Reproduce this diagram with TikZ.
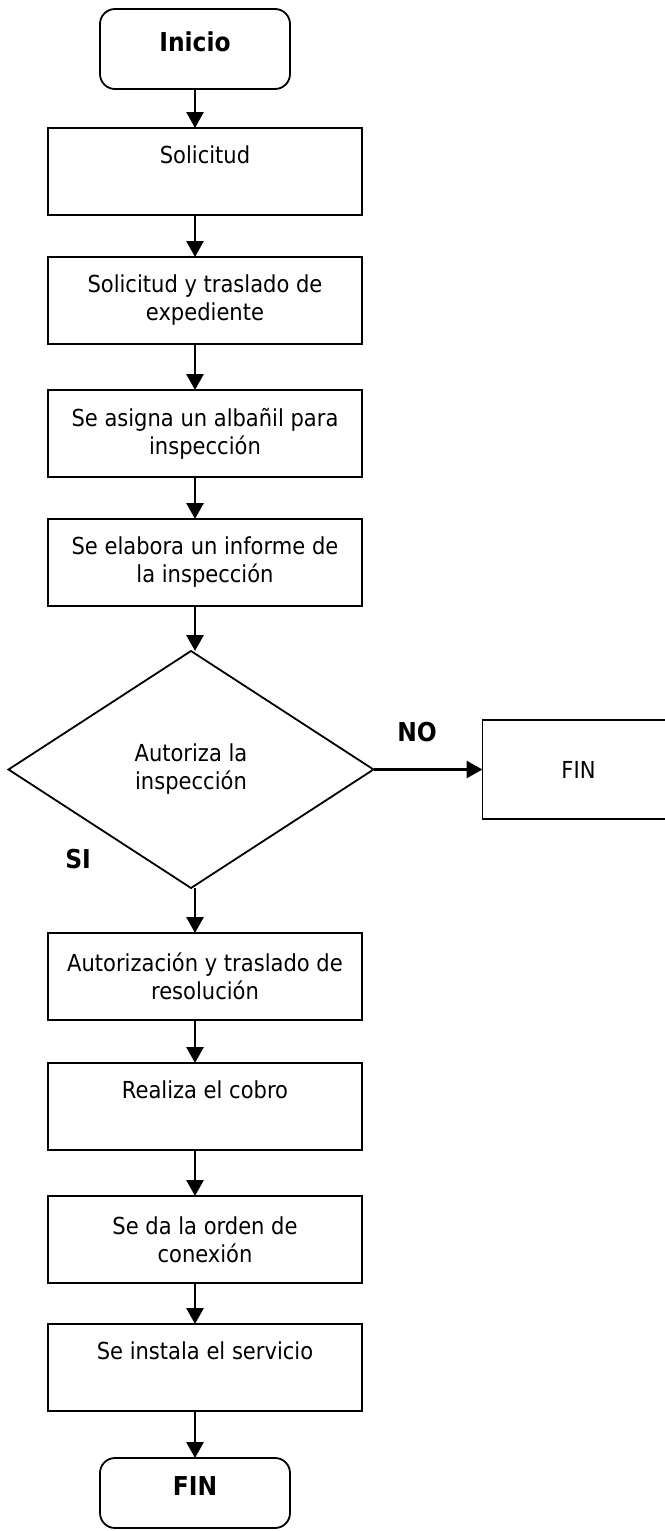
\documentclass[tikz,border=0pt]{standalone}
\usepackage{fontspec}
\setmainfont{DejaVu Sans Condensed}
\usetikzlibrary{shapes.geometric,positioning,arrows.meta}

\begin{document}
\begin{tikzpicture}[x=1pt,y=1pt,line width=1.8pt,font=\fontsize{23.4}{28}\selectfont,
  caja/.style={draw,minimum width=314pt,minimum height=87pt,inner sep=0pt,outer sep=0pt,align=center},
  corta/.style={text depth=34pt},
  extremo/.style={draw,rounded corners=15pt,minimum width=190pt,inner sep=0pt,outer sep=0pt,text depth=14pt,font=\fontsize{26}{30}\selectfont\bfseries},
  decision/.style={draw,diamond,minimum width=365pt,minimum height=237pt,inner sep=0pt,outer sep=0pt,align=center},
  etiqueta/.style={inner sep=0pt,font=\fontsize{26}{30}\selectfont\bfseries},
  flecha/.style={-{Triangle[length=16pt,width=17pt]},line width=2.8pt}]

\useasboundingbox (0,0) rectangle (664,-1531);

\node[extremo,minimum height=80pt](inicio) at (195,-49){Inicio};
\node[caja,corta](b1)[below=39pt of inicio,xshift=10pt]{Solicitud};
\node[caja](b2)[below=42pt of b1]{Solicitud y traslado de\\expediente};
\node[caja](b3)[below=46pt of b2]{Se asigna un albañil para\\inspección};
\node[caja](b4)[below=42pt of b3]{Se elabora un informe de\\la inspección};
\node[decision](rombo)[below=45pt of b4,xshift=-14pt]{Autoriza la\\inspección};
\node[caja,minimum width=192pt,minimum height=99pt](fin1)[right=109pt of rombo]{FIN};
\node[caja](b5)[below=45pt of rombo,xshift=14pt]{Autorización y traslado de\\resolución};
\node[caja,corta](b6)[below=43pt of b5]{Realiza el cobro};
\node[caja](b7)[below=46pt of b6]{Se da la orden de\\conexión};
\node[caja,corta](b8)[below=41pt of b7]{Se instala el servicio};
\node[extremo,minimum height=70pt](fin2)[below=47pt of b8,xshift=-10pt]{FIN};
\node[etiqueta](si)[below left=20pt and 8pt of rombo.south west]{SI};

\path[flecha](inicio) edge (inicio |- b1.north)
	(b1.south -| inicio) edge (inicio |- b2.north)
	(b2.south -| inicio) edge (inicio |- b3.north)
	(b3.south -| inicio) edge (inicio |- b4.north)
	(b4.south -| inicio) edge (inicio |- rombo.north)
	(rombo.east) edge node[etiqueta,pos=0.4,above=26pt]{NO} (fin1.west)
	(rombo.south -| inicio) edge (inicio |- b5.north)
	(b5.south -| inicio) edge (inicio |- b6.north)
	(b6.south -| inicio) edge (inicio |- b7.north)
	(b7.south -| inicio) edge (inicio |- b8.north)
	(b8.south -| inicio) edge (fin2);

\end{tikzpicture}
\end{document}
